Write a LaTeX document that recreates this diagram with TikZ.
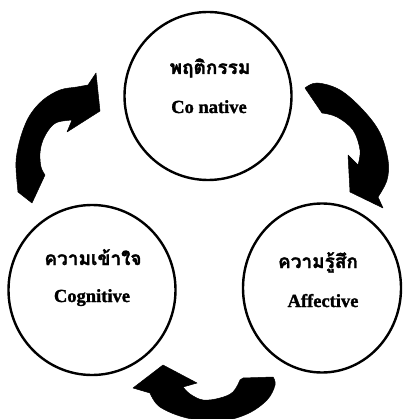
\documentclass[tikz,border=0pt]{standalone}
\usepackage{fontspec}
\setmainfont{Liberation Serif}[BoldFeatures={FakeBold=1.5}]
\newfontfamily\thaifont[Script=Thai, BoldFeatures={FakeBold=1.5}]{Loma}
\usetikzlibrary{shapes.geometric}
\begin{document}
\begin{tikzpicture}[x=1pt,y=-1pt,
  blob/.style={ellipse, draw, line width=2.4pt, inner sep=0pt},
  thaitxt/.style={font=\thaifont\bfseries\fontsize{19}{22}\selectfont, anchor=base, inner sep=0pt},
  engtxt/.style={font=\bfseries\fontsize{18.5}{22}\selectfont, anchor=base, inner sep=0pt},
  fatarrow/.style={fill=black, draw=black, line width=0.5pt, line join=round}]
\useasboundingbox (0,0) rectangle (402,419);

% circles
\node[blob, minimum width=167pt, minimum height=168pt] (cona) at (208,96) {};
\node[blob, minimum width=167pt, minimum height=170pt] (cogn) at (92,290) {};
\node[blob, minimum width=158pt, minimum height=169pt] (affe) at (322,288) {};

% texts
\node[thaitxt] (conaT) at (210,74) {พฤติกรรม};
\node[engtxt]  (conaE) at (209,113) {Co native};
\node[thaitxt] (cognT) at (93,265) {ความเข้าใจ};
\node[engtxt]  (cognE) at (92,302) {Cognitive};
\node[thaitxt] (affeT) at (318,268) {ความรู้สึก};
\node[engtxt]  (affeE) at (323,307) {Affective};

% left arrow (Cognitive -> Conative)
\fill[fatarrow] (32,203) -- plot[smooth, tension=0.6] coordinates {(18,192) (16,168) (17,153) (22,133) (30,115) (43,100) (60,90) (77,87) (88,85)}
  -- (96,73) -- (100,111) -- (67,132) -- (72,120)
  -- plot[smooth, tension=0.6] coordinates {(72,120) (58,122) (50,128) (43,140) (40,153) (41,167) (45,175)} -- cycle;

% right arrow (Conative -> Affective)
\fill[fatarrow] (305,88) -- plot[smooth, tension=0.6] coordinates {(305,88) (317,83) (340,90) (363,110) (380,133) (388,160) (387,180) (378,197)}
  -- (383,208) -- (350,192) -- (348,155) -- (358,165)
  -- plot[smooth, tension=0.6] coordinates {(358,165) (360,150) (353,130) (337,117) (322,113)} -- cycle;

% bottom arrow (Affective -> Cognitive)
\fill[fatarrow] (163,365) -- (197,383) -- (183,387)
  -- plot[smooth, tension=0.6] coordinates {(183,387) (190,394) (203,400) (220,398) (233,392) (240,380)}
  -- (243,378) -- (273,377)
  -- plot[smooth, tension=0.6] coordinates {(273,377) (275,385) (267,400) (247,414) (220,421) (187,418) (160,407) (150,393)}
  -- (133,388) -- cycle;
\end{tikzpicture}
\end{document}
